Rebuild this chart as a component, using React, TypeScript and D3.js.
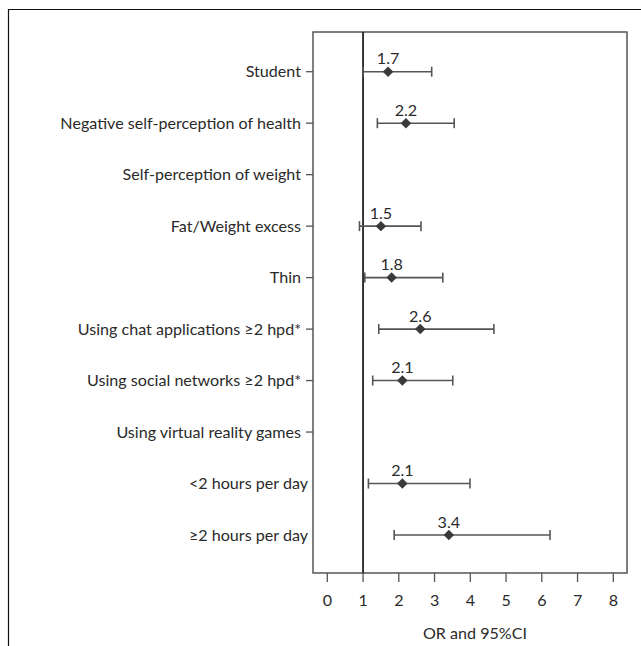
import * as d3 from "d3";

const categories = [
  "Student",
  "Negative self-perception of health",
  "Self-perception of weight",
  "Fat/Weight excess",
  "Thin",
  "Using chat applications ≥2 hpd*",
  "Using social networks ≥2 hpd*",
  "Using virtual reality games",
  "<2 hours per day",
  "≥2 hours per day",
];
// null = header row with no estimate
const oddsRatio = [1.7, 2.2, null, 1.5, 1.8, 2.6, 2.1, null, 2.1, 3.4];
const ciLower = [1.0, 1.4, null, 0.9, 1.05, 1.44, 1.27, null, 1.15, 1.87];
const ciUpper = [2.92, 3.55, null, 2.62, 3.23, 4.66, 3.51, null, 3.99, 6.23];
const noTick = ["<2 hours per day", "≥2 hours per day"];
const xTicks = [0, 1, 2, 3, 4, 5, 6, 7, 8];

const width = 641;
const height = 646;
const boxLeft = 313;
const boxRight = 627;
const boxTop = 32;
const boxBottom = 573;
const font = "Lato, 'Open Sans', sans-serif";
const fs = 16.1;

export default function App() {
  const x = d3.scaleLinear([0, 8], [327.3, 613.3]);
  const y = d3.scalePoint(categories, [71.7, 535]);
  const rows = categories.map((c, i) => ({
    c,
    or: oddsRatio[i],
    lo: ciLower[i],
    hi: ciUpper[i],
  }));
  const diamond = d3.symbol(d3.symbolDiamond2, 70)();

  return (
    <svg
      width={width}
      height={height}
      style={{ position: "absolute", left: 0, top: 0, background: "white" }}
      fontFamily={font}
    >
      {/* outer frame */}
      <path d={`M8.5,${height}V9.5H${width}`} fill="none" stroke="#111" strokeWidth={1.2} />

      {/* plot box */}
      <rect
        x={boxLeft}
        y={boxTop}
        width={boxRight - boxLeft}
        height={boxBottom - boxTop}
        fill="none"
        stroke="#555"
        strokeWidth={1.5}
      />

      {/* reference line at OR = 1 */}
      <line x1={x(1)} x2={x(1)} y1={boxTop} y2={boxBottom} stroke="#222" strokeWidth={1.8} />

      {/* y labels */}
      <g fontSize={fs} fill="#2a2a2a" textAnchor="end">
        {rows.map((d) => {
          const yy = y(d.c)!;
          const tick = !noTick.includes(d.c);
          return (
            <g key={d.c}>
              {tick && <line x1={boxLeft - 7} x2={boxLeft} y1={yy} y2={yy} stroke="#555" strokeWidth={1.3} />}
              <text x={tick ? boxLeft - 12 : boxLeft - 5} y={yy} dy="0.35em">
                {d.c}
              </text>
            </g>
          );
        })}
      </g>

      {/* x axis */}
      <g fontSize={fs} fill="#2a2a2a" textAnchor="middle">
        {xTicks.map((t) => (
          <g key={t}>
            <line x1={x(t)} x2={x(t)} y1={boxBottom} y2={boxBottom + 9} stroke="#555" strokeWidth={1.3} />
            <text x={x(t)} y={600} dy="0.35em">
              {t}
            </text>
          </g>
        ))}
        <text x={475} y={633} dy="0.35em">
          OR and 95%CI
        </text>
      </g>

      {/* estimates with CI */}
      {rows
        .filter((d) => d.or != null)
        .map((d) => {
          const yy = y(d.c)!;
          return (
            <g key={d.c}>
              <line x1={x(d.lo!)} x2={x(d.hi!)} y1={yy} y2={yy} stroke="#555" strokeWidth={1.6} />
              <line x1={x(d.lo!)} x2={x(d.lo!)} y1={yy - 5} y2={yy + 5} stroke="#555" strokeWidth={1.6} />
              <line x1={x(d.hi!)} x2={x(d.hi!)} y1={yy - 5} y2={yy + 5} stroke="#555" strokeWidth={1.6} />
              <path d={diamond} transform={`translate(${x(d.or!)},${yy})`} fill="#3a3a3a" />
              <text x={x(d.or!)} y={yy - 7.5} fontSize={fs} fill="#2a2a2a" textAnchor="middle">
                {d3.format(".1f")(d.or!)}
              </text>
            </g>
          );
        })}
    </svg>
  );
}
